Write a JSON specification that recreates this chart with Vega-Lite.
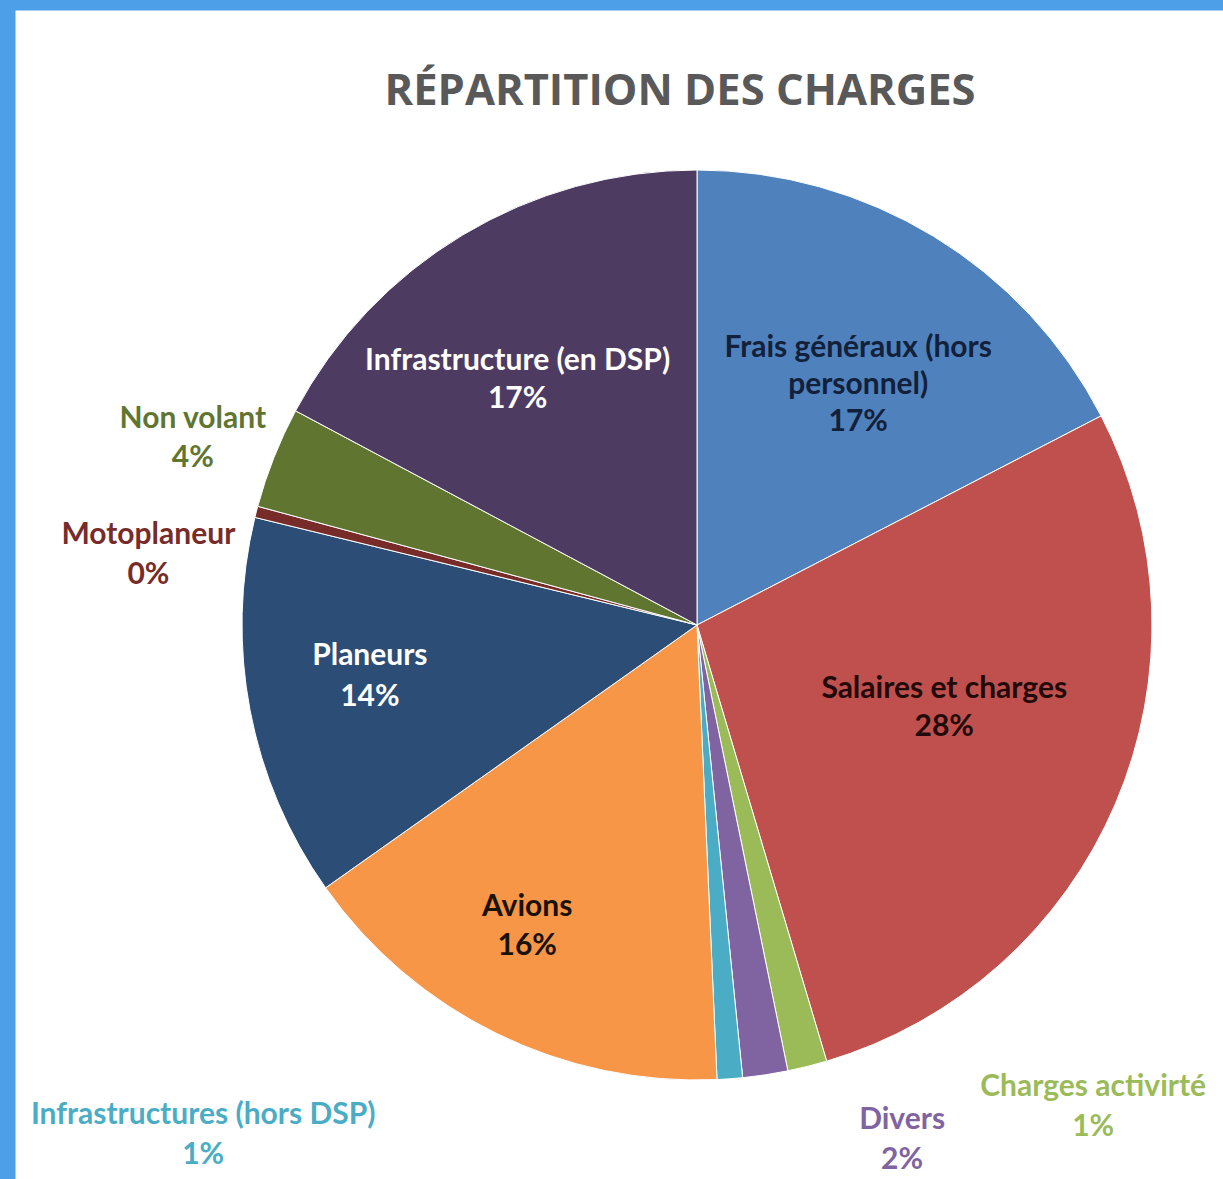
{
  "$schema": "https://vega.github.io/schema/vega-lite/v6.json",
  "width": 1364,
  "height": 1230,
  "autosize": {"type": "none"},
  "padding": {"left": 15, "top": 10, "right": 0, "bottom": 0},
  "background": "#4d9fe8",
  "view": {"fill": "#ffffff", "stroke": "transparent"},
  "config": {"view": {"fill": "#ffffff", "stroke": "transparent"}, "style": {"cell": {"fill": "#ffffff", "stroke": "transparent"}}},
  "title": {
    "text": "RÉPARTITION DES CHARGES",
    "font": "Open Sans",
    "fontSize": 43.5,
    "fontWeight": "bold",
    "color": "#595959",
    "anchor": "middle",
    "baseline": "alphabetic",
    "offset": -138,
    "dx": -17
  },
  "data": {
    "values": [
      {"category": "Frais généraux (hors personnel)", "value": 17.4, "ord": 1, "label": ["Frais généraux (hors", "personnel)", "17%"]},
      {"category": "Salaires et charges", "value": 28.0, "ord": 2, "label": ["Salaires et charges", "28%"]},
      {"category": "Charges activirté", "value": 1.4, "ord": 3, "label": ["Charges activirté", "1%"]},
      {"category": "Divers", "value": 1.6, "ord": 4, "label": ["Divers", "2%"]},
      {"category": "Infrastructures (hors DSP)", "value": 0.9, "ord": 5, "label": ["Infrastructures (hors DSP)", "1%"]},
      {"category": "Avions", "value": 15.9, "ord": 6, "label": ["Avions", "16%"]},
      {"category": "Planeurs", "value": 13.6, "ord": 7, "label": ["Planeurs", "14%"]},
      {"category": "Motoplaneur", "value": 0.4, "ord": 8, "label": ["Motoplaneur", "0%"]},
      {"category": "Non volant", "value": 3.6, "ord": 9, "label": ["Non volant", "4%"]},
      {"category": "Infrastructure (en DSP)", "value": 17.2, "ord": 10, "label": ["Infrastructure (en DSP)", "17%"]}
    ]
  },
  "encoding": {
    "theta": {"field": "value", "type": "quantitative", "stack": true},
    "order": {"field": "ord", "type": "quantitative"}
  },
  "layer": [
    {
      "mark": {"type": "arc", "outerRadius": 455, "stroke": "white", "strokeWidth": 1},
      "encoding": {
        "color": {
          "field": "category",
          "type": "nominal",
          "legend": null,
          "scale": {
            "domain": ["Frais généraux (hors personnel)", "Salaires et charges", "Charges activirté", "Divers", "Infrastructures (hors DSP)", "Avions", "Planeurs", "Motoplaneur", "Non volant", "Infrastructure (en DSP)"],
            "range": ["#4F81BD", "#C0504D", "#9BBB59", "#8064A2", "#4BACC6", "#F79646", "#2C4D75", "#772C2A", "#5F7530", "#4D3B62"]
          }
        }
      }
    },
    {
      "mark": {"type": "text", "radius": 289, "dx": 11, "dy": -30, "font": "Lato", "fontSize": 30, "fontWeight": "bold", "lineHeight": 37, "align": "center", "baseline": "middle", "fill": "#13203a"},
      "encoding": {"text": {"condition": {"test": "datum.ord === 1", "field": "label"}, "value": ""}}
    },
    {
      "mark": {"type": "text", "radius": 260, "dx": 8, "dy": -38, "font": "Lato", "fontSize": 30, "fontWeight": "bold", "lineHeight": 38, "align": "center", "baseline": "middle", "fill": "#220a0a"},
      "encoding": {"text": {"condition": {"test": "datum.ord === 2", "field": "label"}, "value": ""}}
    },
    {
      "mark": {"type": "text", "radius": 520, "dx": 270, "dy": -42, "font": "Lato", "fontSize": 30, "fontWeight": "bold", "lineHeight": 40, "align": "center", "baseline": "middle", "fill": "#9BBB59"},
      "encoding": {"text": {"condition": {"test": "datum.ord === 3", "field": "label"}, "value": ""}}
    },
    {
      "mark": {"type": "text", "radius": 520, "dx": 127, "dy": -19, "font": "Lato", "fontSize": 30, "fontWeight": "bold", "lineHeight": 40, "align": "center", "baseline": "middle", "fill": "#8064A2"},
      "encoding": {"text": {"condition": {"test": "datum.ord === 4", "field": "label"}, "value": ""}}
    },
    {
      "mark": {"type": "text", "radius": 460, "dx": -527, "dy": 31, "font": "Lato", "fontSize": 30, "fontWeight": "bold", "lineHeight": 40, "align": "center", "baseline": "middle", "fill": "#4BACC6"},
      "encoding": {"text": {"condition": {"test": "datum.ord === 5", "field": "label"}, "value": ""}}
    },
    {
      "mark": {"type": "text", "radius": 345, "dx": -18, "dy": -28, "font": "Lato", "fontSize": 30, "fontWeight": "bold", "lineHeight": 39, "align": "center", "baseline": "middle", "fill": "#1a1206"},
      "encoding": {"text": {"condition": {"test": "datum.ord === 6", "field": "label"}, "value": ""}}
    },
    {
      "mark": {"type": "text", "radius": 331, "dx": -2, "dy": -31, "font": "Lato", "fontSize": 30, "fontWeight": "bold", "lineHeight": 41, "align": "center", "baseline": "middle", "fill": "white"},
      "encoding": {"text": {"condition": {"test": "datum.ord === 7", "field": "label"}, "value": ""}}
    },
    {
      "mark": {"type": "text", "radius": 554, "dx": -12, "dy": 48, "font": "Lato", "fontSize": 30, "fontWeight": "bold", "lineHeight": 40, "align": "center", "baseline": "middle", "fill": "#772C2A"},
      "encoding": {"text": {"condition": {"test": "datum.ord === 8", "field": "label"}, "value": ""}}
    },
    {
      "mark": {"type": "text", "radius": 538, "dx": -4, "dy": -8, "font": "Lato", "fontSize": 30, "fontWeight": "bold", "lineHeight": 39, "align": "center", "baseline": "middle", "fill": "#5F7530"},
      "encoding": {"text": {"condition": {"test": "datum.ord === 9", "field": "label"}, "value": ""}}
    },
    {
      "mark": {"type": "text", "radius": 304, "dx": -23, "dy": -3, "font": "Lato", "fontSize": 30, "fontWeight": "bold", "lineHeight": 38, "align": "center", "baseline": "middle", "fill": "white"},
      "encoding": {"text": {"condition": {"test": "datum.ord === 10", "field": "label"}, "value": ""}}
    }
  ]
}
